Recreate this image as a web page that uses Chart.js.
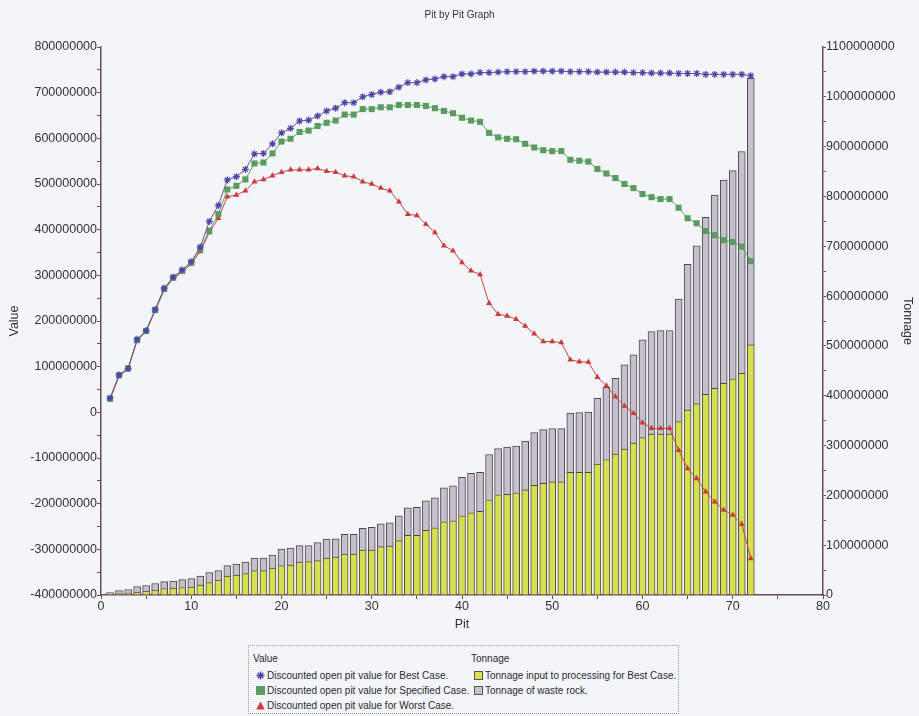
<!DOCTYPE html>
<html>
<head>
<meta charset="utf-8">
<script src="https://cdn.jsdelivr.net/npm/chart.js@4"></script>
<style>
  html, body { margin: 0; padding: 0; background: #f4f5f9; }
  #wrap { position: relative; width: 919px; height: 716px; }
  #chart { position: absolute; left: 0; top: 0; }
  #legend {
    position: absolute; left: 248px; top: 645px; width: 429px; height: 67px;
    border: 1px dotted #9a9a9a; font: 10px "Liberation Sans", Arial, sans-serif; color: #2a2a35;
  }
  #legend .row { position: absolute; height: 14px; line-height: 14px; white-space: nowrap; }
  #legend .mk { display: inline-block; width: 9px; height: 9px; vertical-align: -1px; margin-right: 2px; box-sizing: border-box; }
</style>
</head>
<body>
<div id="wrap">
  <canvas id="chart" width="919" height="640"></canvas>
  <div id="legend">
    <div class="row" style="left:4px;top:6px">Value</div>
    <div class="row" style="left:7px;top:23px"><svg class="mk" viewBox="0 0 9 9"><path d="M4.5 0.5V8.5M0.5 4.5H8.5M1.7 1.7L7.3 7.3M7.3 1.7L1.7 7.3" stroke="#4b45a8" stroke-width="1.4"/></svg>Discounted open pit value for Best Case.</div>
    <div class="row" style="left:7px;top:38px"><span class="mk" style="background:#5e9e64"></span>Discounted open pit value for Specified Case.</div>
    <div class="row" style="left:7px;top:53px"><svg class="mk" viewBox="0 0 9 9"><path d="M4.5 0.5L8.8 8.5H0.2Z" fill="#cc3b3b"/></svg>Discounted open pit value for Worst Case.</div>
    <div class="row" style="left:222px;top:6px">Tonnage</div>
    <div class="row" style="left:225px;top:23px"><span class="mk" style="background:#dde04a;border:1px solid #555"></span>Tonnage input to processing for Best Case.</div>
    <div class="row" style="left:225px;top:38px"><span class="mk" style="background:#c8c2cc;border:1px solid #555"></span>Tonnage of waste rock.</div>
  </div>
</div>
<script>
'use strict';
// values are in millions
const M = 1000000;

let pits = [1, 2, 3, 4, 5, 6, 7, 8, 9, 10, 11, 12, 13, 14, 15, 16, 17, 18, 19, 20,
  21, 22, 23, 24, 25, 26, 27, 28, 29, 30, 31, 32, 33, 34, 35, 36, 37, 38, 39, 40,
  41, 42, 43, 44, 45, 46, 47, 48, 49, 50, 51, 52, 53, 54, 55, 56, 57, 58, 59, 60,
  61, 62, 63, 64, 65, 66, 67, 68, 69, 70, 71, 72];

let bestCase = [31, 82, 96, 160, 179, 225, 272, 296, 312, 330, 362, 418, 453, 509, 516, 532, 566, 567, 588, 612,
  622, 638, 640, 649, 660, 666, 678, 678, 691, 696, 701, 702, 712, 722, 722, 728, 730, 735, 735, 741,
  741, 744, 744, 745, 746, 746, 746, 747, 747, 747, 747, 746, 746, 746, 745, 745, 745, 745, 744, 744,
  743, 743, 743, 742, 742, 742, 740, 740, 740, 740, 740, 737];

let specifiedCase = [30, 81, 96, 158, 178, 224, 270, 295, 310, 328, 358, 398, 434, 488, 496, 510, 545, 547, 567, 593,
  599, 614, 617, 627, 634, 639, 652, 652, 664, 664, 668, 668, 673, 673, 673, 671, 666, 660, 655, 645,
  639, 636, 612, 602, 599, 598, 588, 580, 574, 572, 572, 553, 551, 549, 533, 523, 513, 500, 491, 478,
  471, 467, 467, 448, 425, 414, 397, 388, 377, 373, 363, 331];

let worstCase = [28, 79, 95, 157, 177, 222, 268, 293, 307, 325, 352, 394, 425, 472, 476, 485, 505, 510, 518, 526,
  531, 531, 531, 534, 528, 526, 518, 516, 505, 500, 491, 485, 461, 434, 431, 412, 394, 365, 354, 328,
  310, 302, 239, 215, 211, 204, 189, 172, 155, 155, 153, 115, 111, 110, 77, 58, 34, 14, -2, -23,
  -35, -35, -35, -83, -123, -145, -174, -196, -214, -225, -245, -320];

let processingTonnage = [2, 3, 4, 6, 8, 10, 13, 14, 15, 16, 20, 25, 30, 38, 40, 43, 49, 49, 54, 59,
  60, 66, 67, 69, 74, 76, 82, 82, 90, 90, 97, 98, 109, 120, 120, 130, 135, 147, 149, 159,
  165, 168, 191, 201, 202, 205, 211, 220, 224, 227, 227, 246, 246, 246, 263, 272, 283, 293, 305, 316,
  323, 323, 323, 348, 371, 384, 403, 415, 425, 434, 445, 502];

let wasteTonnage = [3, 6, 7, 11, 11, 13, 14, 14, 16, 17, 18, 20, 19, 21, 22, 23, 25, 25, 26, 33,
  34, 33, 32, 36, 38, 37, 40, 40, 44, 46, 46, 47, 50, 55, 56, 59, 60, 68, 70, 77,
  79, 78, 91, 93, 95, 94, 98, 106, 108, 107, 107, 119, 120, 121, 132, 145, 152, 169, 177, 196,
  206, 208, 208, 246, 293, 317, 355, 388, 408, 418, 445, 535];

const axisColor = '#6a4b57';
const labelFont = { family: '"Liberation Sans", Arial, sans-serif', size: 12.5 };

function points(values) {
  return pits.map((p, i) => ({ x: p, y: values[i] * M }));
}

function bigLabel(value) {
  let v = Math.round(value);
  return v % (100 * M) === 0 ? String(v) : '';
}

let ctx = document.getElementById('chart').getContext('2d');
let pitChart = new Chart(ctx, {
  type: 'bar',
  data: {
    datasets: [{
      type: 'line',
      label: 'Discounted open pit value for Best Case.',
      data: points(bestCase),
      yAxisID: 'y',
      borderColor: '#7a4f86',
      borderWidth: 1,
      pointStyle: 'star',
      pointRadius: 3.5,
      pointBorderWidth: 1.2,
      pointBorderColor: '#4b45a8',
      pointBackgroundColor: '#4b45a8',
      order: 1
    }, {
      type: 'line',
      label: 'Discounted open pit value for Specified Case.',
      data: points(specifiedCase),
      yAxisID: 'y',
      borderColor: '#5e9e64',
      borderWidth: 1,
      pointStyle: 'rect',
      pointRadius: 4.3,
      pointBorderWidth: 0,
      pointBackgroundColor: '#5a9c60',
      order: 1
    }, {
      type: 'line',
      label: 'Discounted open pit value for Worst Case.',
      data: points(worstCase),
      yAxisID: 'y',
      borderColor: '#c24848',
      borderWidth: 1,
      pointStyle: 'triangle',
      pointRadius: 3.5,
      pointBorderWidth: 0,
      pointBackgroundColor: '#cc3b3b',
      order: 1
    }, {
      label: 'Tonnage input to processing for Best Case.',
      data: points(processingTonnage),
      yAxisID: 'y2',
      backgroundColor: '#d6df4e',
      borderColor: '#4d4848',
      borderWidth: 1,
      barThickness: 7,
      grouped: false,
      order: 2
    }, {
      label: 'Tonnage of waste rock.',
      data: points(wasteTonnage),
      yAxisID: 'y2',
      backgroundColor: '#c6c0ce',
      borderColor: '#4d4848',
      borderWidth: 1,
      barThickness: 7,
      grouped: false,
      order: 2
    }]
  },
  options: {
    responsive: false,
    animation: false,
    layout: { padding: 0 },
    plugins: {
      legend: { display: false },
      tooltip: { enabled: false },
      title: {
        display: true,
        text: 'Pit by Pit Graph',
        color: '#333',
        font: { family: '"Liberation Sans", Arial, sans-serif', size: 10, weight: 'normal' },
        padding: { top: 9, bottom: 26 }
      }
    },
    scales: {
      x: {
        type: 'linear',
        min: 0,
        max: 80,
        offset: false,
        afterFit: (s) => { s.height = 45; },
        border: { display: true, color: axisColor, width: 1.5 },
        grid: { offset: false, drawOnChartArea: false, drawTicks: true, tickLength: 4, color: axisColor },
        ticks: {
          stepSize: 5, padding: 0, color: '#333', font: labelFont, maxRotation: 0,
          callback: (v) => (v % 10 === 0 ? String(v) : '')
        },
        title: { display: true, text: 'Pit', color: '#333', font: labelFont, padding: { top: 0, bottom: 7.5 } }
      },
      y: {
        position: 'left',
        min: -400 * M,
        max: 800 * M,
        afterFit: (s) => { s.width = 101; },
        border: { display: true, color: axisColor, width: 1.5 },
        grid: { drawOnChartArea: false, drawTicks: true, tickLength: 4, color: axisColor },
        ticks: { stepSize: 50 * M, padding: 0, color: '#333', font: labelFont, callback: bigLabel },
        title: { display: true, text: 'Value', color: '#333', font: labelFont, padding: { top: 7, bottom: 0 } }
      },
      y2: {
        position: 'right',
        stacked: true,
        min: 0,
        max: 1100 * M,
        afterFit: (s) => { s.width = 96; },
        border: { display: true, color: axisColor, width: 1.5 },
        grid: { drawOnChartArea: false, drawTicks: true, tickLength: 3, color: axisColor },
        ticks: { stepSize: 50 * M, padding: 0, color: '#333', font: labelFont, callback: bigLabel },
        title: { display: true, text: 'Tonnage', color: '#333', font: labelFont, padding: { top: 4, bottom: 0 } }
      }
    }
  }
});
</script>
</body>
</html>
